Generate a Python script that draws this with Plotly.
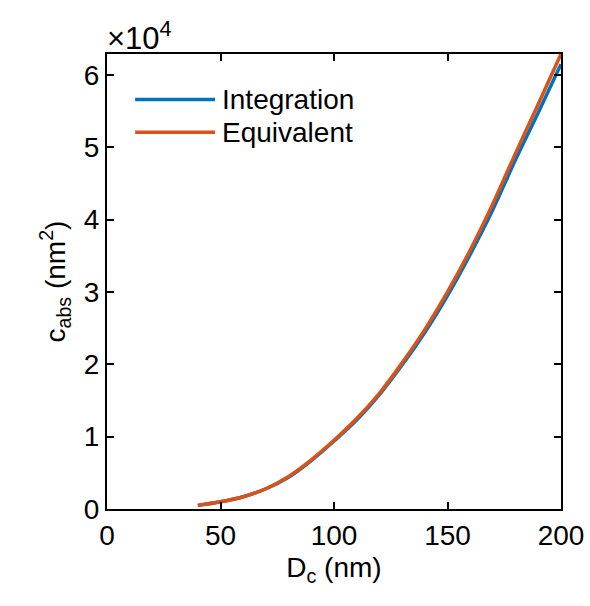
import plotly.graph_objects as go

# Data (values in units of 1e4 nm^2)
D_c = [40, 50, 60, 70, 80, 90, 100, 110, 120, 130, 140, 150, 160, 170, 180, 190, 200]
integration = [0.05, 0.10, 0.17, 0.28, 0.44, 0.67, 0.94, 1.23, 1.58, 1.99, 2.44, 2.95, 3.52, 4.14, 4.83, 5.48, 6.15]
equivalent = [0.05, 0.10, 0.17, 0.28, 0.45, 0.68, 0.95, 1.25, 1.60, 2.02, 2.48, 3.00, 3.58, 4.22, 4.92, 5.60, 6.29]
series_names = ["Integration", "Equivalent"]
colors = ["#0072BD", "#D95319"]
x_ticks = [0, 50, 100, 150, 200]
y_ticks = [0, 1, 2, 3, 4, 5, 6]

FONT = "Liberation Sans, Arial, sans-serif"
FS = 28

fig = go.Figure()
for name, ys, c in zip(series_names, [integration, equivalent], colors):
    fig.add_trace(go.Scatter(x=D_c, y=ys, mode="lines", name=name,
                             line=dict(color=c, width=3.5, shape="spline"),
                             showlegend=False))

axis_common = dict(showgrid=False, zeroline=False, showline=True, linecolor="black",
                   linewidth=2, mirror="allticks", ticks="inside", ticklen=7,
                   tickwidth=2, tickcolor="black", ticklabeloverflow="allow",
                   automargin=False,
                   tickfont=dict(family=FONT, size=FS, color="black"))

fig.update_xaxes(range=[0, 200], tickvals=x_ticks, ticktext=[str(v) for v in x_ticks],
                 title=dict(text="D<sub>c</sub> (nm)", font=dict(family=FONT, size=FS, color="black"),
                            standoff=8),
                 **axis_common)
fig.update_yaxes(range=[0, 6.29], tickvals=y_ticks, ticktext=[str(v) for v in y_ticks],
                 title=dict(text="c<sub>abs</sub> (nm<sup>2</sup>)",
                            font=dict(family=FONT, size=FS, color="black"), standoff=10),
                 **axis_common)

# exponent label
fig.add_annotation(xref="paper", yref="paper", x=0, y=1, xanchor="left", yanchor="bottom",
                   xshift=-2, yshift=-4, showarrow=False, text="×10<sup>4</sup>",
                   font=dict(family=FONT, size=31, color="black"))

# manual legend (MATLAB-style long line samples)
leg_y = [0.9, 0.828]
for name, c, yy in zip(series_names, colors, leg_y):
    fig.add_shape(type="line", xref="paper", yref="paper", x0=0.062, x1=0.238, y0=yy, y1=yy,
                  line=dict(color=c, width=3.5))
    fig.add_annotation(xref="paper", yref="paper", x=0.248, y=yy, xanchor="left", yanchor="middle",
                       showarrow=False, text=name, font=dict(family=FONT, size=FS, color="black"))

fig.update_layout(width=590, height=606, margin=dict(l=107, r=29, t=54, b=97),
                  plot_bgcolor="white", paper_bgcolor="white",
                  font=dict(family=FONT, size=FS, color="black"))

fig.write_html("out.html", config={"displayModeBar": False},
               post_script="document.body.style.margin='0';document.body.style.overflow='hidden';")
